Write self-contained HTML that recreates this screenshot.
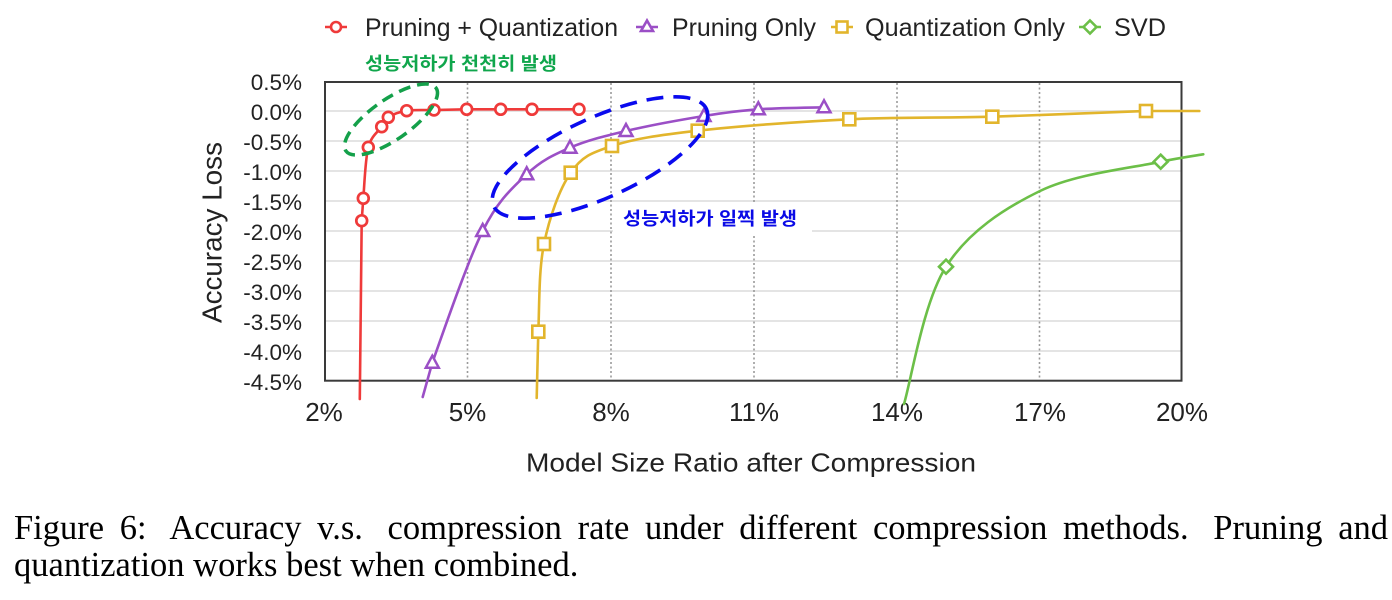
<!DOCTYPE html>
<html>
<head>
<meta charset="utf-8">
<style>
  html, body { margin:0; padding:0; background:#fff; }
  #wrap { position:relative; width:1392px; height:600px; overflow:hidden; background:#fff; }
  svg { position:absolute; left:0; top:0; }
  .cap { position:absolute; left:14px; width:1374px; font-family:"Liberation Serif", serif; font-size:34.5px; line-height:36px; color:#000; white-space:nowrap; }
  #l1 { top:510px; text-align:justify; text-align-last:justify; white-space:normal; }
  #l2 { top:547px; text-align:left; }
  .sp { display:inline-block; width:9px; }
</style>
</head>
<body>
<div id="wrap">
<svg width="1392" height="600" viewBox="0 0 1392 600" xmlns="http://www.w3.org/2000/svg">
  <!-- horizontal gridlines -->
  <g stroke="#e4e4e4" stroke-width="2">
    <line x1="325" y1="111" x2="1181" y2="111"/>
    <line x1="325" y1="141" x2="1181" y2="141"/>
    <line x1="325" y1="171" x2="1181" y2="171"/>
    <line x1="325" y1="201" x2="1181" y2="201"/>
    <line x1="325" y1="231" x2="1181" y2="231"/>
    <line x1="325" y1="261" x2="1181" y2="261"/>
    <line x1="325" y1="291" x2="1181" y2="291"/>
    <line x1="325" y1="321" x2="1181" y2="321"/>
    <line x1="325" y1="351" x2="1181" y2="351"/>
  </g>
  <!-- vertical dotted gridlines -->
  <g stroke="#9a9a9a" stroke-width="1.6" stroke-dasharray="2 2.5">
    <line x1="467.5" y1="83" x2="467.5" y2="380"/>
    <line x1="611" y1="83" x2="611" y2="380"/>
    <line x1="754" y1="83" x2="754" y2="380"/>
    <line x1="897" y1="83" x2="897" y2="380"/>
    <line x1="1039.5" y1="83" x2="1039.5" y2="380"/>
  </g>
  <!-- white label box -->
  <rect x="613" y="203" width="199" height="31" fill="#fff"/>
  <!-- frame -->
  <rect x="325" y="82" width="856.5" height="298.7" fill="none" stroke="#3a3a3a" stroke-width="2"/>

  <!-- y tick labels -->
  <g font-family="Liberation Sans, sans-serif" font-size="22.5" fill="#222" text-anchor="end">
    <text x="302" y="90">0.5%</text>
    <text x="302" y="120">0.0%</text>
    <text x="302" y="150">-0.5%</text>
    <text x="302" y="180">-1.0%</text>
    <text x="302" y="210">-1.5%</text>
    <text x="302" y="240">-2.0%</text>
    <text x="302" y="270">-2.5%</text>
    <text x="302" y="300">-3.0%</text>
    <text x="302" y="330">-3.5%</text>
    <text x="302" y="360">-4.0%</text>
    <text x="302" y="390">-4.5%</text>
  </g>
  <!-- x tick labels -->
  <g font-family="Liberation Sans, sans-serif" font-size="26" fill="#222" text-anchor="middle">
    <text x="324" y="421">2%</text>
    <text x="467.5" y="421">5%</text>
    <text x="611" y="421">8%</text>
    <text x="754" y="421">11%</text>
    <text x="897" y="421">14%</text>
    <text x="1040" y="421">17%</text>
    <text x="1182" y="421">20%</text>
  </g>
  <!-- axis titles -->
  <text x="526" y="471.5" font-family="Liberation Sans, sans-serif" font-size="26" fill="#222" textLength="450" lengthAdjust="spacingAndGlyphs">Model Size Ratio after Compression</text>
  <text transform="translate(221.5,232.5) rotate(-90)" x="0" y="0" text-anchor="middle" font-family="Liberation Sans, sans-serif" font-size="27.5" fill="#222" textLength="181" lengthAdjust="spacingAndGlyphs">Accuracy Loss</text>

  <!-- series lines -->
  <g fill="none" stroke-width="2.6" stroke-linejoin="round" stroke-linecap="round">
    <path stroke="#ef3a3a" d="M359.8,399 L361.7,220.7 L363.3,198.3 C364.4,186.1 365.2,159.2 368.3,147.3 C371.4,135.4 378.4,131.7 381.7,126.7 L388.3,117.3 C392.5,114.6 399.1,111.9 406.7,110.7 C414.3,109.5 424,110.2 434,110 L466.7,109.3 L500.7,109.3 L532,109.3 L579,109.3"/>
    <path stroke="#9b4fc6" d="M422.7,397 L432.3,362.7 C442.3,335 467,262.4 482.7,231 C498.4,199.6 512.2,188.2 526.7,174.3 C541.3,160.4 553.5,154.9 570,147.7 C586.6,140.5 603.7,136.3 626,131 C648.3,125.7 682,119.6 704,116 C726,112.4 738.3,110.75 758.3,109.3 C778.3,107.85 813,107.6 824,107.3"/>
    <path stroke="#e2b52c" d="M536.7,398 L538.3,331.7 C539.5,306 538.6,270.5 544,244 C549.4,217.5 559.4,189 570.7,172.7 C582,156.4 590.8,153 612,146 C633.2,139 658.15,135.15 697.7,130.7 C737.25,126.25 800.2,121.6 849.3,119.3 C898.4,117 942.85,118.1 992.3,116.7 C1041.75,115.3 1111.5,112 1146,111 L1199.3,111"/>
    <path stroke="#6cbf48" d="M904,404 C911,381.1 923.3,302.2 946,266.7 C968.7,231.2 1004.2,208.5 1040,191 C1075.8,173.5 1133.5,167.8 1160.7,161.7 C1180,157.8 1196.2,155.5 1203.3,154.3"/>
  </g>

  <!-- markers -->
  <g fill="#fff" stroke="#ef3a3a" stroke-width="2.7">
    <circle cx="361.7" cy="220.7" r="5.4"/>
    <circle cx="363.3" cy="198.3" r="5.4"/>
    <circle cx="368.3" cy="147.3" r="5.4"/>
    <circle cx="381.7" cy="126.7" r="5.4"/>
    <circle cx="388.3" cy="117.3" r="5.4"/>
    <circle cx="406.7" cy="110.7" r="5.4"/>
    <circle cx="434" cy="110" r="5.4"/>
    <circle cx="466.7" cy="109.3" r="5.4"/>
    <circle cx="500.7" cy="109.3" r="5.4"/>
    <circle cx="532" cy="109.3" r="5.4"/>
    <circle cx="579" cy="109.3" r="5.4"/>
  </g>
  <g fill="#fff" stroke="#9b4fc6" stroke-width="2.5" stroke-linejoin="miter">
    <polygon points="432.3,355.7 425.8,367.7 438.8,367.7"/>
    <polygon points="482.7,224 476.2,236 489.2,236"/>
    <polygon points="526.7,167.3 520.2,179.3 533.2,179.3"/>
    <polygon points="570,140.7 563.5,152.7 576.5,152.7"/>
    <polygon points="626,124 619.5,136 632.5,136"/>
    <polygon points="704,109 697.5,121 710.5,121"/>
    <polygon points="758.3,102.3 751.8,114.3 764.8,114.3"/>
    <polygon points="824,100.3 817.5,112.3 830.5,112.3"/>
  </g>
  <g fill="#fff" stroke="#e2b52c" stroke-width="2.6">
    <rect x="532.3" y="325.7" width="12" height="12"/>
    <rect x="538" y="238" width="12" height="12"/>
    <rect x="564.7" y="166.7" width="12" height="12"/>
    <rect x="606" y="140" width="12" height="12"/>
    <rect x="691.7" y="124.7" width="12" height="12"/>
    <rect x="843.3" y="113.3" width="12" height="12"/>
    <rect x="986.3" y="110.7" width="12" height="12"/>
    <rect x="1140" y="105" width="12" height="12"/>
  </g>
  <g fill="#fff" stroke="#6cbf48" stroke-width="2.6">
    <polygon points="946,259.7 953,266.7 946,273.7 939,266.7"/>
    <polygon points="1160.7,154.7 1167.7,161.7 1160.7,168.7 1153.7,161.7"/>
  </g>

  <!-- dashed ellipses -->
  <ellipse cx="391" cy="119.5" rx="55" ry="20" transform="rotate(-35 391 119.5)" fill="none" stroke="#14a04a" stroke-width="3.5" stroke-dasharray="12 7"/>
  <ellipse cx="600" cy="157.5" rx="117" ry="40" transform="rotate(-24.5 600 157.5)" fill="none" stroke="#0a0aee" stroke-width="3.6" stroke-dasharray="17 10"/>

  <!-- annotations -->
  <text x="365" y="70" font-family="Liberation Sans, 'Noto Sans CJK KR', sans-serif" font-weight="bold" font-size="18" fill="#10a64c" textLength="192" lengthAdjust="spacingAndGlyphs">성능저하가 천천히 발생</text>
  <text x="623" y="225" font-family="Liberation Sans, 'Noto Sans CJK KR', sans-serif" font-weight="bold" font-size="18" fill="#0a0ae6" textLength="174" lengthAdjust="spacingAndGlyphs">성능저하가 일찍 발생</text>

  <!-- legend -->
  <g stroke-width="2.6" fill="#fff">
    <line x1="325" y1="27" x2="347" y2="27" stroke="#ef3a3a"/>
    <circle cx="336" cy="27" r="5" stroke="#ef3a3a"/>
    <line x1="636" y1="27" x2="658" y2="27" stroke="#9b4fc6"/>
    <polygon points="647,20.5 641,31 653,31" stroke="#9b4fc6"/>
    <line x1="831" y1="27" x2="853" y2="27" stroke="#e2b52c"/>
    <rect x="836.5" y="21.5" width="11" height="11" stroke="#e2b52c"/>
    <line x1="1079" y1="27" x2="1101" y2="27" stroke="#6cbf48"/>
    <polygon points="1090,20.5 1096.5,27 1090,33.5 1083.5,27" stroke="#6cbf48"/>
  </g>
  <g font-family="Liberation Sans, sans-serif" font-size="25" fill="#222">
    <text x="365" y="36" textLength="253" lengthAdjust="spacingAndGlyphs">Pruning + Quantization</text>
    <text x="672" y="36" textLength="144" lengthAdjust="spacingAndGlyphs">Pruning Only</text>
    <text x="865" y="36" textLength="200" lengthAdjust="spacingAndGlyphs">Quantization Only</text>
    <text x="1114" y="36" textLength="52" lengthAdjust="spacingAndGlyphs">SVD</text>
  </g>
</svg>
<div class="cap" id="l1">Figure 6:<span class="sp"></span> Accuracy v.s.<span class="sp"></span> compression rate under different compression methods.<span class="sp"></span> Pruning and</div>
<div class="cap" id="l2">quantization works best when combined.</div>
</div>
</body>
</html>
